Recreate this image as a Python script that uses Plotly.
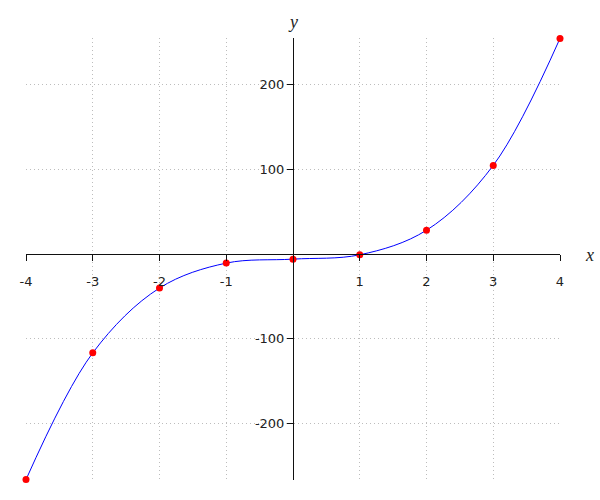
import plotly.graph_objects as go

# Data
x_vals = [-4, -3, -2, -1, 0, 1, 2, 3, 4]
y_vals = [-266, -116.5, -40, -10.6, -5.9, -0.8, 28.2, 104.7, 254.5]

x_ticks = [-4, -3, -2, -1, 1, 2, 3, 4]
x_ticktext = ["-4", "-3", "-2", "-1", "1", "2", "3", "4"]
y_ticks = [-200, -100, 100, 200]
y_ticktext = ["-200", "-100", "100", "200"]

x_range = [-4, 4]
y_range = [-266.5, 255]

fig = go.Figure()
fig.add_trace(go.Scatter(
    x=x_vals, y=y_vals, mode="lines",
    line=dict(color="blue", width=1, shape="spline", smoothing=1.0),
    hoverinfo="skip", cliponaxis=False,
))
fig.add_trace(go.Scatter(
    x=x_vals, y=y_vals, mode="markers",
    marker=dict(color="red", size=7, line=dict(width=0)),
    cliponaxis=False,
))

x_pos = (0 - y_range[0]) / (y_range[1] - y_range[0])
y_pos = (0 - x_range[0]) / (x_range[1] - x_range[0])

font = dict(family="DejaVu Sans", size=13, color="#222")
grid = dict(showgrid=True, gridcolor="#bdbdbd", griddash="1px,3px", gridwidth=1)

fig.update_layout(
    width=600, height=500,
    margin=dict(l=26, r=40, t=38, b=20, autoexpand=False),
    paper_bgcolor="white", plot_bgcolor="white",
    showlegend=False,
    font=font,
    xaxis=dict(
        range=x_range, anchor="free", position=x_pos, automargin=False,
        tickvals=x_ticks, ticktext=x_ticktext,
        showline=True, linecolor="#111", linewidth=1,
        ticks="outside", ticklen=6, tickcolor="#111", tickwidth=1,
        ticklabelstandoff=9,
        zeroline=False, tickfont=font, **grid,
    ),
    yaxis=dict(
        range=y_range, anchor="free", position=y_pos, automargin=False,
        tickvals=y_ticks, ticktext=y_ticktext,
        showline=True, linecolor="#111", linewidth=1,
        ticks="outside", ticklen=6, tickcolor="#111", tickwidth=1,
        zeroline=False, tickfont=font, **grid,
    ),
    annotations=[
        dict(text="<i>x</i>", x=x_range[1], y=0, xref="x", yref="y",
             xanchor="center", yanchor="middle", xshift=29, yshift=-1,
             showarrow=False,
             font=dict(family="Liberation Serif", size=18, color="#222")),
        dict(text="<i>y</i>", x=0, y=1, xref="x", yref="paper",
             xanchor="center", yanchor="bottom", yshift=4,
             showarrow=False,
             font=dict(family="Liberation Serif", size=18, color="#222")),
    ],
)

fig.write_html(
    "out.html",
    config={"displayModeBar": False},
    post_script="document.body.style.margin='0';document.body.style.overflow='hidden';",
)
